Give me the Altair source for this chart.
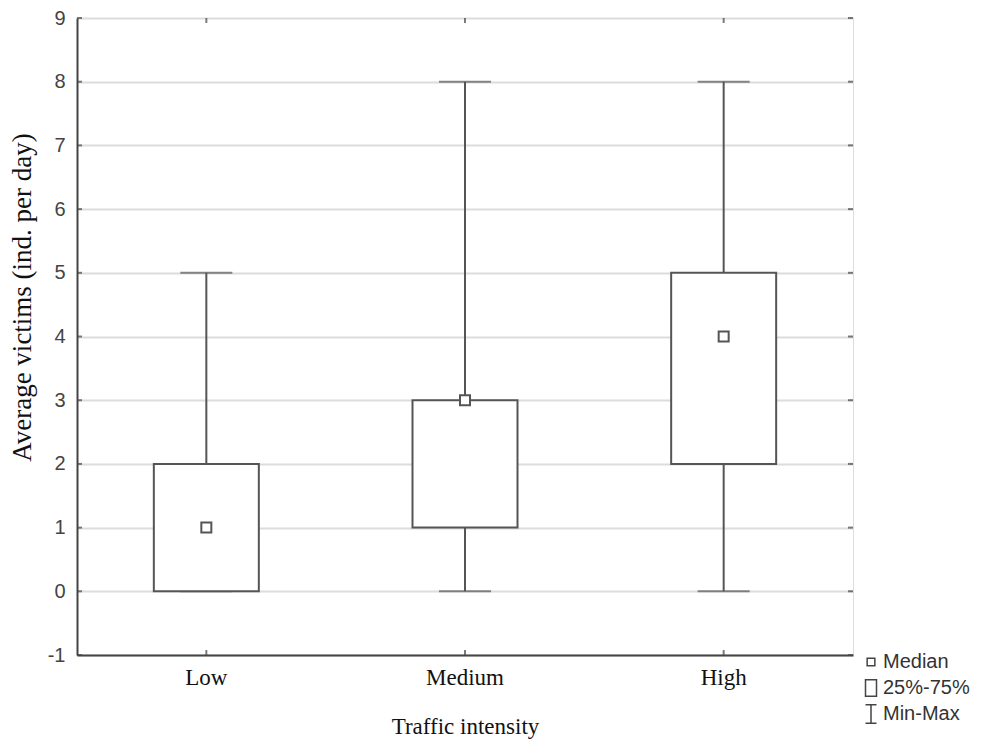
import altair as alt
import pandas as pd

categories = ["Low", "Medium", "High"]
mins = [0, 0, 0]
q1s = [0, 1, 2]
medians = [1, 3, 4]
q3s = [2, 3, 5]
maxs = [5, 8, 8]
legend_labels = ["Median", "25%-75%", "Min-Max"]
y_ticks = [-1, 0, 1, 2, 3, 4, 5, 6, 7, 8, 9]

df = pd.DataFrame({
    "cat": categories, "min": mins, "q1": q1s, "median": medians,
    "q3": q3s, "max": maxs, "stat": ["Median"] * 3,
})
legend_df = pd.DataFrame({"stat": legend_labels})
tick_df = pd.DataFrame({"v": y_ticks})

shape_paths = [
    "M-0.35,-0.35H0.35V0.35H-0.35Z",
    "M-0.5,-0.75H0.5V0.75H-0.5Z",
    "M-0.5,-0.85H0.5M0,-0.85V0.85M-0.5,0.85H0.5",
]
shape_scale = alt.Scale(domain=legend_labels, range=shape_paths)

LINE = "#555555"
AX = "#444444"
W, H = 776, 637
TK = 5  # inward tick length

xscale = alt.Scale(paddingInner=0, paddingOuter=0)
x = alt.X("cat:N", sort=categories, scale=xscale,
          axis=alt.Axis(title="Traffic intensity", labelAngle=0, ticks=False,
                        labelFont="Liberation Serif", labelFontSize=23,
                        labelColor="#111111", labelPadding=11,
                        titleFont="Liberation Serif", titleFontSize=23,
                        titleFontWeight="normal", titleColor="#111111",
                        titlePadding=26, domainColor=AX, domainWidth=2))
yscale = alt.Scale(domain=[-1, 9], nice=False, zero=False)
yaxis = alt.Axis(title="Average victims (ind. per day)", values=y_ticks,
                 labelExpr="toString(datum.value)",
                 ticks=False, grid=True, gridColor="#dcdcdc", gridWidth=2,
                 labelFont="Liberation Sans", labelFontSize=20,
                 labelColor=AX, labelPadding=12,
                 titleFont="Liberation Serif", titleFontSize=27,
                 titleFontWeight="normal", titleColor="#111111",
                 titleX=-55, titleY=279, titleBaseline="middle",
                 domainColor=AX, domainWidth=2)

base = alt.Chart(df).encode(x=x)

lower = base.mark_rule(color=LINE, strokeWidth=2).encode(
    y=alt.Y("min:Q", scale=yscale, axis=yaxis), y2="q1:Q")
upper = base.mark_rule(color=LINE, strokeWidth=2).encode(
    y=alt.Y("q3:Q", scale=yscale), y2="max:Q")
cap_lo = base.mark_tick(color=LINE, size=52, thickness=2).encode(
    y=alt.Y("min:Q", scale=yscale))
cap_hi = base.mark_tick(color=LINE, size=52, thickness=2).encode(
    y=alt.Y("max:Q", scale=yscale))
box = base.mark_bar(size=105, fill="white", stroke=LINE, strokeWidth=2).encode(
    y=alt.Y("q1:Q", scale=yscale), y2="q3:Q")
med = base.mark_point(size=816, fill="white", stroke=LINE, strokeWidth=2,
                      opacity=1).encode(
    y=alt.Y("median:Q", scale=yscale),
    shape=alt.Shape("stat:N", scale=shape_scale, legend=None))

# small inward tick marks on the frame
tick_left = alt.Chart(tick_df).mark_tick(
    orient="horizontal", size=TK, thickness=2, color=AX
).encode(x=alt.value(TK / 2), y=alt.Y("v:Q", scale=yscale))
tick_right = alt.Chart(tick_df).mark_tick(
    orient="horizontal", size=TK, thickness=2, color=AX
).encode(x=alt.value(W - TK / 2), y=alt.Y("v:Q", scale=yscale))
tick_bottom = base.mark_tick(
    orient="vertical", size=TK, thickness=2, color=AX
).encode(y=alt.value(H - TK / 2))
tick_top = base.mark_tick(
    orient="vertical", size=TK, thickness=2, color=AX
).encode(y=alt.value(TK / 2))

plot = alt.layer(lower, upper, cap_lo, cap_hi, box, med,
                 tick_left, tick_right, tick_bottom, tick_top)

# legend (its own small layer, rows placed by a point scale)
leg_y = alt.Y("stat:N", sort=legend_labels, axis=None,
              scale=alt.Scale(range=[644, 696], padding=0))
leg_sym = alt.Chart(legend_df).mark_point(
    size=484, fill="white", stroke=AX, strokeWidth=1.5, opacity=1
).encode(x=alt.value(794), y=leg_y,
         shape=alt.Shape("stat:N", scale=shape_scale, legend=None))
leg_txt = alt.Chart(legend_df).mark_text(
    align="left", baseline="middle", font="Liberation Sans", fontSize=20,
    color="#333333"
).encode(x=alt.value(806), y=leg_y, text="stat:N")
legend = alt.layer(leg_sym, leg_txt)

chart = alt.layer(plot, legend).resolve_scale(y="independent").properties(
    width=W, height=H,
    autosize=alt.AutoSizeParams(type="none"),
    padding={"left": 69, "top": 10, "right": 125, "bottom": 84},
).configure_view(stroke=AX, strokeWidth=2).configure(background="white")

chart.save("out.html", embed_options={"renderer": "svg", "actions": False})
